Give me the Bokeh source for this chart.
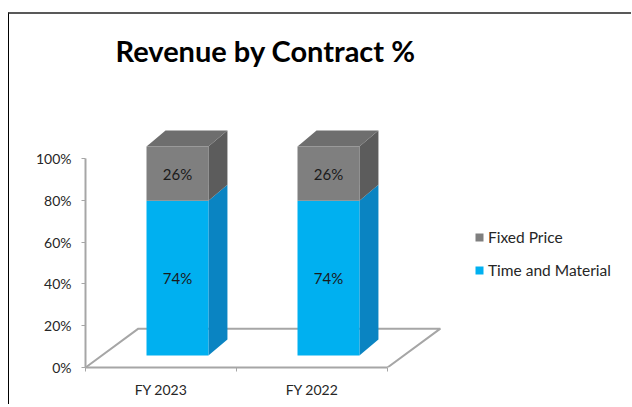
from bokeh.plotting import figure
from bokeh.models import Range1d, FixedTicker, Legend, LegendItem, ColumnDataSource
from bokeh.core.properties import value
from bokeh.embed import file_html
from bokeh.resources import INLINE

# ---- data ----
categories = ["FY 2023", "FY 2022"]
time_material = [74, 74]
fixed_price = [26, 26]
series_names = ["Fixed Price", "Time and Material"]
y_ticks = [0, 20, 40, 60, 80, 100]
y_tick_labels = ["0%", "20%", "40%", "60%", "80%", "100%"]

# ---- styles ----
FONT = "Lato"
BLUE, BLUE_SIDE = "#00B0F0", "#0A84C2"
GRAY, GRAY_SIDE, GRAY_TOP = "#7F7F7F", "#5C5C5C", "#6E6E6E"
AXIS_GRAY = "#A6A6A6"
BAR_SHIFT_X, BAR_SHIFT_Y = 0.109, 5.74   # bar placed at mid depth of floor
BAR_HALF = 0.205
DEPTH_X, DEPTH_Y = 0.126, 7.66           # bar depth offsets
FLOOR_DX, FLOOR_DY = 0.350, 18.6         # floor depth offsets

W, H = 623, 392
p = figure(width=W, height=H, output_backend="svg", toolbar_location=None,
           x_range=Range1d(0, (W - 76) / 151.0), y_range=Range1d(0, 295 / 2.09),
           min_border_left=76, min_border_right=0, min_border_top=58, min_border_bottom=39)
p.margin = (12, 0, 0, 8)
p.styles = {"border-left": "1px solid #000000", "border-top": "2px solid #595959"}
p.outline_line_color = None
p.xgrid.visible = False
p.ygrid.visible = False
p.background_fill_color = "white"
p.border_fill_color = "white"

# title
p.title.text = "Revenue by Contract %"
p.title.text_font = FONT
p.title.text_font_size = "29px"
p.title.text_font_style = "bold"
p.title.text_color = "#000000"
p.title.align = "left"
p.title.offset = 30
p.title.standoff = 10

n = len(categories)

# floor outline (front edge is the category axis)
p.line([0, FLOOR_DX, n + FLOOR_DX, n], [0, FLOOR_DY, FLOOR_DY, 0],
       line_color=AXIS_GRAY, line_width=2)

# stacked bar geometry
xl, xr, b_tm, t_tm, b_fp, t_fp = [], [], [], [], [], []
for i in range(n):
    c = i + 0.5 + BAR_SHIFT_X
    xl.append(c - BAR_HALF)
    xr.append(c + BAR_HALF)
    b_tm.append(BAR_SHIFT_Y)
    t_tm.append(BAR_SHIFT_Y + time_material[i])
    b_fp.append(BAR_SHIFT_Y + time_material[i])
    t_fp.append(BAR_SHIFT_Y + time_material[i] + fixed_price[i])

def side(xr_, b, t):
    xs = [[x, x + DEPTH_X, x + DEPTH_X, x] for x in xr_]
    ys = [[bb, bb + DEPTH_Y, tt + DEPTH_Y, tt] for bb, tt in zip(b, t)]
    return xs, ys

sx, sy = side(xr, b_tm, t_tm)
p.patches(sx, sy, fill_color=BLUE_SIDE, line_color=None)
sx, sy = side(xr, b_fp, t_fp)
p.patches(sx, sy, fill_color=GRAY_SIDE, line_color=None)
# top face
tx = [[a, a + DEPTH_X, b + DEPTH_X, b] for a, b in zip(xl, xr)]
ty = [[t, t + DEPTH_Y, t + DEPTH_Y, t] for t in t_fp]
p.patches(tx, ty, fill_color=GRAY_TOP, line_color=None)

src_tm = ColumnDataSource(dict(left=xl, right=xr, bottom=b_tm, top=t_tm,
                               x=[(a + b) / 2 for a, b in zip(xl, xr)],
                               y=[(a + b) / 2 for a, b in zip(b_tm, t_tm)],
                               label=[f"{v}%" for v in time_material]))
src_fp = ColumnDataSource(dict(left=xl, right=xr, bottom=b_fp, top=t_fp,
                               x=[(a + b) / 2 for a, b in zip(xl, xr)],
                               y=[(a + b) / 2 for a, b in zip(b_fp, t_fp)],
                               label=[f"{v}%" for v in fixed_price]))
r_tm = p.quad(left="left", right="right", bottom="bottom", top="top", source=src_tm,
              fill_color=BLUE, line_color=None)
r_fp = p.quad(left="left", right="right", bottom="bottom", top="top", source=src_fp,
              fill_color=GRAY, line_color=None)
for s in (src_tm, src_fp):
    p.text(x="x", y="y", text="label", source=s, text_align="center",
           text_baseline="middle", text_font=value(FONT), text_font_size="15px",
           text_color="#1A1A1A")

# axes
ya = p.yaxis[0]
ya.ticker = FixedTicker(ticks=y_ticks)
ya.major_label_overrides = {t: l for t, l in zip(y_ticks, y_tick_labels)}
ya.bounds = (0, 100)
ya.axis_line_color = AXIS_GRAY
ya.axis_line_width = 2
ya.major_tick_line_color = AXIS_GRAY
ya.major_tick_out = 4
ya.major_tick_in = 0
ya.minor_tick_line_color = None
ya.major_label_standoff = 10
ya.major_label_text_font = FONT
ya.major_label_text_font_size = "14px"
ya.major_label_text_color = "#262626"

xa = p.xaxis[0]
centers = [i + 0.5 for i in range(n)]
xa.ticker = FixedTicker(ticks=centers, minor_ticks=list(range(n + 1)))
xa.major_label_overrides = {c: l for c, l in zip(centers, categories)}
xa.bounds = (0, n)
xa.axis_line_color = AXIS_GRAY
xa.axis_line_width = 2
xa.major_tick_line_color = None
xa.major_tick_out = 0
xa.major_tick_in = 0
xa.minor_tick_line_color = AXIS_GRAY
xa.minor_tick_out = 4
xa.minor_tick_in = 0
xa.major_label_standoff = 9
xa.major_label_text_font = FONT
xa.major_label_text_font_size = "14px"
xa.major_label_text_color = "#262626"

legend = Legend(items=[LegendItem(label=series_names[0], renderers=[r_fp]),
                       LegendItem(label=series_names[1], renderers=[r_tm])],
                location=(389, 87))
legend.border_line_color = None
legend.background_fill_alpha = 0
legend.padding = 0
legend.margin = 0
legend.spacing = 13
legend.glyph_width = 10
legend.glyph_height = 10
legend.label_height = 20
legend.label_standoff = 4
legend.label_text_font = FONT
legend.label_text_font_size = "15.5px"
legend.label_text_color = "#262626"
p.add_layout(legend)

open("out.html", "w").write(file_html(p, INLINE))
